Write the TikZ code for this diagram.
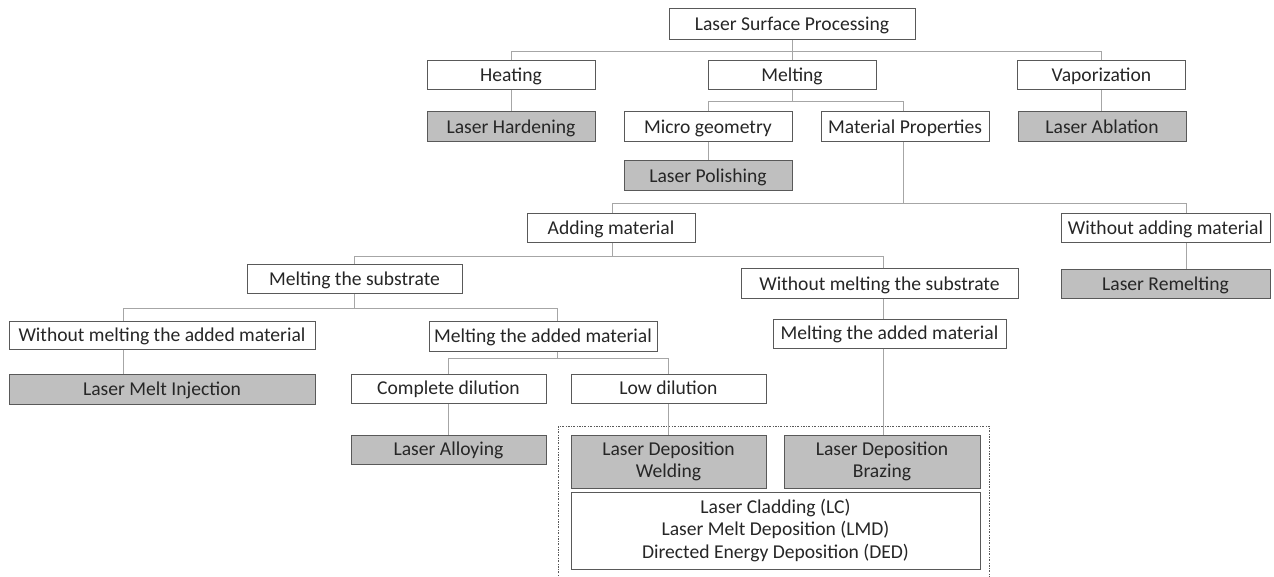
\documentclass[tikz,border=0pt]{standalone}
\usepackage{fontspec}
\setmainfont{Carlito}
\definecolor{boxline}{HTML}{595959}
\definecolor{connline}{HTML}{A6A6A6}
\definecolor{leaffill}{HTML}{BFBFBF}
\definecolor{txt}{HTML}{262626}
\begin{document}
\begin{tikzpicture}[x=1pt, y=-1pt,
  box/.style={draw=boxline, line width=1pt, fill=white, inner sep=0pt,
    align=center, text=txt, font=\fontsize{19.6}{22.5}\selectfont,
    execute at begin node={\rule{0pt}{.82em}\vphantom{g}}},
  leaf/.style={box, fill=leaffill},
  conn/.style={draw=connline, line width=1pt}]

  \useasboundingbox (0, 0) rectangle (1274, 577);

  % dotted frame round the deposition processes
  \draw[boxline, line width=.8pt, dash pattern=on 2pt off 1.5pt on .6pt off 1.5pt]
    (558, 590) -- (558, 426) -- (989, 426) -- (989, 590);

  % level 0 and 1
  \node[box, minimum width=246, minimum height=31] (lsp) at (792, 24.5) {Laser Surface Processing};
  \node[box, minimum width=168, minimum height=29] (heat) at (511, 75.5) {Heating};
  \node[box, minimum width=168, minimum height=29] (melt) at (792, 75.5) {Melting};
  \node[box, minimum width=168, minimum height=29] (vap) at (1101.5, 75.5) {Vaporization};

  % level 2
  \node[leaf, minimum width=168, minimum height=30] (hard) at (511, 127) {Laser Hardening};
  \node[box, minimum width=168, minimum height=30] (micro) at (708, 127) {Micro geometry};
  \node[box, minimum width=168, minimum height=30] (matprop) at (905, 127) {Material Properties};
  \node[leaf, minimum width=168, minimum height=30] (abl) at (1102, 127) {Laser Ablation};
  \node[leaf, minimum width=168, minimum height=30] (polish) at (708, 176) {Laser Polishing};

  % material properties
  \node[box, minimum width=168, minimum height=29] (add) at (611, 228.5) {Adding material};
  \node[box, minimum width=209, minimum height=29] (woadd) at (1165.5, 228.5) {Without adding material};
  \node[leaf, minimum width=209, minimum height=29] (remelt) at (1165.5, 284.5) {Laser Remelting};

  % adding material
  \node[box, minimum width=215, minimum height=29] (msub) at (354.5, 279.5) {Melting the substrate};
  \node[box, minimum width=277, minimum height=30] (womsub) at (879.5, 284) {Without melting the substrate};
  \node[box, minimum width=233, minimum height=29] (mamright) at (889.5, 333.5) {Melting the added material};

  % melting the substrate
  \node[box, minimum width=306, minimum height=28] (womam) at (162, 335) {Without melting the added material};
  \node[leaf, minimum width=306, minimum height=30] (lmi) at (162, 389) {Laser Melt Injection};
  \node[box, minimum width=228, minimum height=30] (mamleft) at (543, 336) {Melting the added material};
  \node[box, minimum width=195, minimum height=29] (cdil) at (448.5, 388.5) {Complete dilution};
  \node[leaf, minimum width=195, minimum height=29] (alloy) at (448.5, 449.5) {Laser Alloying};
  \node[box, minimum width=195, minimum height=29] (ldil) at (668.5, 388.5) {Low dilution};

  % deposition
  \node[leaf, minimum width=195, minimum height=53] (weld) at (668.5, 461.5) {Laser Deposition\\Welding};
  \node[leaf, minimum width=196, minimum height=53] (braz) at (882, 461.5) {Laser Deposition\\Brazing};
  \node[box, minimum width=409, minimum height=77] (clad) at (775.5, 530.5)
    {Laser Cladding (LC)\\Laser Melt Deposition (LMD)\\Directed Energy Deposition (DED)};

  % connectors
  \path (lsp.south) ++(0, 11) coordinate (jlsp);
  \draw[conn] (lsp.south) -- (jlsp);
  \draw[conn] (heat.north) |- (jlsp);
  \draw[conn] (melt.north) -- (jlsp);
  \draw[conn] (vap.north) |- (jlsp);
  \draw[conn] (heat) -- (hard);
  \draw[conn] (vap.south) -- (vap.south |- abl.north);

  \path (melt.south) ++(0, 11) coordinate (jmelt);
  \draw[conn] (melt.south) -- (jmelt);
  \draw[conn] (micro.north) |- (jmelt);
  \draw[conn] ([xshift=-2pt]matprop.north) |- (jmelt);
  \draw[conn] (micro) -- (polish);

  \path ([xshift=-2pt]matprop.south) ++(0, 61) coordinate (jmat);
  \draw[conn] ([xshift=-2pt]matprop.south) -- (jmat);
  \draw[conn] ([xshift=1pt]add.north) |- (jmat);
  \draw[conn] ([xshift=20.5pt]woadd.north) |- (jmat);
  \draw[conn] ([xshift=20.5pt]woadd.south) -- ([xshift=20.5pt]remelt.north);

  \path ([xshift=1pt]add.south) ++(0, 13) coordinate (jadd);
  \draw[conn] ([xshift=1pt]add.south) -- (jadd);
  \draw[conn] (msub.north) |- (jadd);
  \draw[conn] ([xshift=3.5pt]womsub.north) |- (jadd);
  \draw[conn] ([xshift=3.5pt]womsub.south) -- ([xshift=-6.5pt]mamright.north);
  \draw[conn] ([xshift=-6.5pt]mamright.south) -- ([xshift=1pt]braz.north);

  \path (msub.south) ++(0, 14) coordinate (jsub);
  \draw[conn] (msub.south) -- (jsub);
  \draw[conn] ([xshift=-39pt]womam.north) |- (jsub);
  \draw[conn] ([xshift=14pt]mamleft.north) |- (jsub);
  \draw[conn] ([xshift=-39pt]womam.south) -- ([xshift=-39pt]lmi.north);

  \path ([xshift=14pt]mamleft.south) ++(0, 7) coordinate (jmam);
  \draw[conn] ([xshift=14pt]mamleft.south) -- (jmam);
  \draw[conn] (cdil.north) |- (jmam);
  \draw[conn] (ldil.north) |- (jmam);
  \draw[conn] (cdil) -- (alloy);
  \draw[conn] (ldil) -- (weld);

\end{tikzpicture}
\end{document}
